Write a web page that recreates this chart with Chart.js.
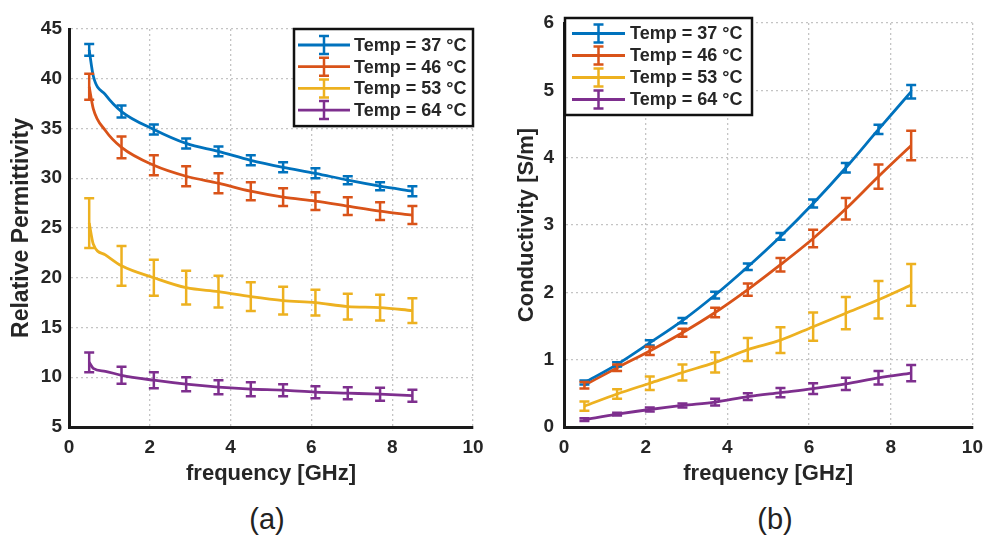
<!DOCTYPE html>
<html>
<head>
<meta charset="utf-8">
<title>Permittivity and conductivity vs frequency</title>
<script src="https://cdn.jsdelivr.net/npm/chart.js@4.4.1/dist/chart.umd.min.js"></script>
<style>
  html, body { margin: 0; padding: 0; background: #fff; }
  body { width: 992px; height: 535px; position: relative; overflow: hidden; }
  .panel { position: absolute; top: 0; width: 496px; height: 490px; }
  .panel-a { left: 0; }
  .panel-b { left: 496px; }
  .caption {
    position: absolute; top: 503px; width: 60px; margin-left: -30px;
    text-align: center; font: 29px "Liberation Sans", Arial, sans-serif; color: #222;
  }
</style>
</head>
<body>
<div class="panel panel-a"><canvas id="permChart"></canvas></div>
<div class="panel panel-b"><canvas id="condChart"></canvas></div>
<div class="caption" style="left:267px">(a)</div>
<div class="caption" style="left:775px">(b)</div>

<script>
// ---- data ----
const tempLabels = ['Temp = 37 °C', 'Temp = 46 °C', 'Temp = 53 °C', 'Temp = 64 °C'];

// (a) relative permittivity; null error = curve point without an error bar
const freqA = [0.5, 0.6, 0.9, 1.3, 2.1, 2.9, 3.7, 4.5, 5.3, 6.1, 6.9, 7.7, 8.5];
const perm37 = [42.9, 40.3, 38.4, 36.7, 34.9, 33.5, 32.7, 31.8, 31.1, 30.5, 29.8, 29.2, 28.7];
const perm37Err = [0.6, null, null, 0.6, 0.5, 0.5, 0.5, 0.5, 0.5, 0.5, 0.4, 0.4, 0.5];
const perm46 = [39.2, 37.0, 34.8, 33.1, 31.3, 30.2, 29.5, 28.7, 28.1, 27.7, 27.2, 26.7, 26.3];
const perm46Err = [1.3, null, null, 1.1, 1.0, 1.0, 1.0, 0.9, 0.9, 0.9, 0.9, 0.9, 0.9];
const perm53 = [25.5, 23.4, 22.3, 21.2, 20.0, 19.0, 18.6, 18.1, 17.7, 17.5, 17.1, 17.0, 16.7];
const perm53Err = [2.5, null, null, 2.0, 1.8, 1.7, 1.6, 1.45, 1.4, 1.3, 1.3, 1.3, 1.25];
const perm64 = [11.5, 10.9, 10.6, 10.2, 9.7, 9.3, 9.0, 8.8, 8.7, 8.5, 8.4, 8.3, 8.15];
const perm64Err = [1.0, null, null, 0.85, 0.8, 0.7, 0.7, 0.7, 0.6, 0.6, 0.6, 0.65, 0.6];

// (b) conductivity [S/m]
const freqB = [0.5, 1.3, 2.1, 2.9, 3.7, 4.5, 5.3, 6.1, 6.9, 7.7, 8.5];
const cond37 = [0.66, 0.93, 1.25, 1.58, 1.96, 2.38, 2.83, 3.32, 3.85, 4.42, 4.98];
const cond37Err = [0.03, 0.03, 0.04, 0.04, 0.05, 0.05, 0.05, 0.06, 0.07, 0.07, 0.1];
const cond46 = [0.62, 0.88, 1.13, 1.40, 1.70, 2.04, 2.41, 2.80, 3.24, 3.72, 4.18];
const cond46Err = [0.05, 0.05, 0.06, 0.06, 0.07, 0.09, 0.1, 0.13, 0.16, 0.18, 0.22];
const cond53 = [0.31, 0.49, 0.65, 0.81, 0.96, 1.15, 1.29, 1.49, 1.69, 1.89, 2.11];
const cond53Err = [0.07, 0.07, 0.1, 0.12, 0.15, 0.17, 0.19, 0.21, 0.24, 0.28, 0.31];
const cond64 = [0.11, 0.19, 0.26, 0.32, 0.37, 0.45, 0.51, 0.57, 0.64, 0.73, 0.80];
const cond64Err = [0.02, 0.02, 0.03, 0.03, 0.05, 0.05, 0.07, 0.08, 0.09, 0.1, 0.12];

const xTicks = [0, 2, 4, 6, 8, 10];
const permTicks = [5, 10, 15, 20, 25, 30, 35, 40, 45];
const condTicks = [0, 1, 2, 3, 4, 5, 6];

// MATLAB default line colours
const colors = ['#0072BD', '#D95319', '#EDB120', '#7E2F8E'];
const FONT = '"Liberation Sans", Arial, sans-serif';
const TEXT = '#262626';

function makeSets(xs, series, errs) {
  return series.map(function (ys, i) {
    return {
      label: tempLabels[i],
      data: ys.map(function (y, j) { return { x: xs[j], y: y }; }),
      errors: errs[i],
      borderColor: colors[i],
      backgroundColor: colors[i],
      borderWidth: 2.8,
      pointRadius: 0,
      cubicInterpolationMode: 'monotone'
    };
  });
}

function drawErrBar(ctx, x, yTop, yBot, cap, color) {
  ctx.strokeStyle = color;
  ctx.beginPath();
  ctx.moveTo(x, yTop); ctx.lineTo(x, yBot);
  ctx.moveTo(x - cap, yTop); ctx.lineTo(x + cap, yTop);
  ctx.moveTo(x - cap, yBot); ctx.lineTo(x + cap, yBot);
  ctx.stroke();
}

const errorBars = {
  id: 'errorBars',
  afterDatasetsDraw(chart) {
    const ctx = chart.ctx;
    const xs = chart.scales.x, ys = chart.scales.y;
    ctx.save();
    ctx.lineWidth = 2.5;
    chart.data.datasets.forEach(function (ds) {
      ds.data.forEach(function (p, j) {
        const e = ds.errors[j];
        if (e == null) return;
        const px = xs.getPixelForValue(p.x);
        drawErrBar(ctx, px, ys.getPixelForValue(p.y + e), ys.getPixelForValue(p.y - e), 5, ds.borderColor);
      });
    });
    ctx.restore();
  }
};

// boxed legend with line + error-bar glyph, anchored to a chart-area corner
const boxLegend = {
  id: 'boxLegend',
  afterDraw(chart, args, opts) {
    const ctx = chart.ctx;
    const area = chart.chartArea;
    const n = chart.data.datasets.length;
    const h = opts.firstRow * 2 + opts.rowH * (n - 1);
    const left = opts.corner === 'right' ? area.right - opts.width + opts.dx : area.left + opts.dx;
    const top = area.top + opts.dy;
    ctx.save();
    ctx.fillStyle = '#fff';
    ctx.fillRect(left, top, opts.width, h);
    ctx.lineWidth = 2.5;
    ctx.strokeStyle = '#111';
    ctx.strokeRect(left, top, opts.width, h);
    ctx.font = 'bold 18px ' + FONT;
    ctx.textBaseline = 'middle';
    chart.data.datasets.forEach(function (ds, i) {
      const y = top + opts.firstRow + i * opts.rowH;
      const x0 = left + opts.lineFrom, x1 = left + opts.lineTo;
      ctx.lineWidth = 2.8;
      ctx.strokeStyle = ds.borderColor;
      ctx.beginPath();
      ctx.moveTo(x0, y); ctx.lineTo(x1, y);
      ctx.stroke();
      ctx.lineWidth = 2.5;
      drawErrBar(ctx, (x0 + x1) / 2, y - 9, y + 9, 5, ds.borderColor);
      ctx.fillStyle = TEXT;
      ctx.fillText(ds.label, left + opts.textAt, y + 1);
    });
    ctx.restore();
  }
};

function axis(ticks, title, opts) {
  return {
    type: 'linear',
    min: ticks[0],
    max: ticks[ticks.length - 1],
    afterBuildTicks: function (scale) {
      scale.ticks = ticks.map(function (v) { return { value: v }; });
    },
    afterFit: opts.fit,
    grid: { color: '#c4c4c4', lineWidth: 1.3, drawTicks: false },
    border: { display: true, color: '#1a1a1a', width: 3, dash: [2, 3] },
    ticks: {
      color: TEXT,
      padding: opts.tickPad,
      font: { family: FONT, size: 19, weight: 'bold' }
    },
    title: {
      display: true,
      text: title,
      color: TEXT,
      padding: opts.titlePad,
      font: { family: FONT, size: opts.titleSize || 22, weight: 'bold' }
    }
  };
}

function makeChart(id, xs, series, errs, yTicks, yTitle, layout, legendOpts) {
  return new Chart(document.getElementById(id), {
    type: 'line',
    data: { datasets: makeSets(xs, series, errs) },
    options: {
      responsive: true,
      maintainAspectRatio: false,
      animation: false,
      events: [],
      layout: { padding: layout.padding },
      scales: {
        x: axis(xTicks, 'frequency [GHz]', {
          tickPad: 9,
          titlePad: { top: 0, bottom: 0 },
          fit: function (s) { s.height = 60; }
        }),
        y: axis(yTicks, yTitle, {
          tickPad: layout.yTickPad,
          titleSize: layout.yTitleSize,
          titlePad: { top: layout.yTitlePad, bottom: 0 },
          fit: function (s) { s.width = layout.yWidth; }
        })
      },
      plugins: {
        legend: { display: false },
        tooltip: { enabled: false },
        boxLegend: legendOpts
      }
    },
    plugins: [errorBars, boxLegend]
  });
}

makeChart('permChart', freqA,
  [perm37, perm46, perm53, perm64],
  [perm37Err, perm46Err, perm53Err, perm64Err],
  permTicks, 'Relative Permittivity',
  { padding: { top: 29, right: 23, bottom: 3, left: 0 }, yWidth: 69, yTickPad: 7, yTitlePad: 8, yTitleSize: 23 },
  { corner: 'right', dx: 0, dy: 0, width: 179, firstRow: 16, rowH: 21.7, lineFrom: 4, lineTo: 56, textAt: 60 });

makeChart('condChart', freqB,
  [cond37, cond46, cond53, cond64],
  [cond37Err, cond46Err, cond53Err, cond64Err],
  condTicks, 'Conductivity [S/m]',
  { padding: { top: 23, right: 11, bottom: 3, left: 0 }, yWidth: 68, yTickPad: 10, yTitlePad: 18, yTitleSize: 22 },
  { corner: 'left', dx: 1, dy: -5, width: 187, firstRow: 15.5, rowH: 22, lineFrom: 7, lineTo: 60, textAt: 65 });
</script>
</body>
</html>
